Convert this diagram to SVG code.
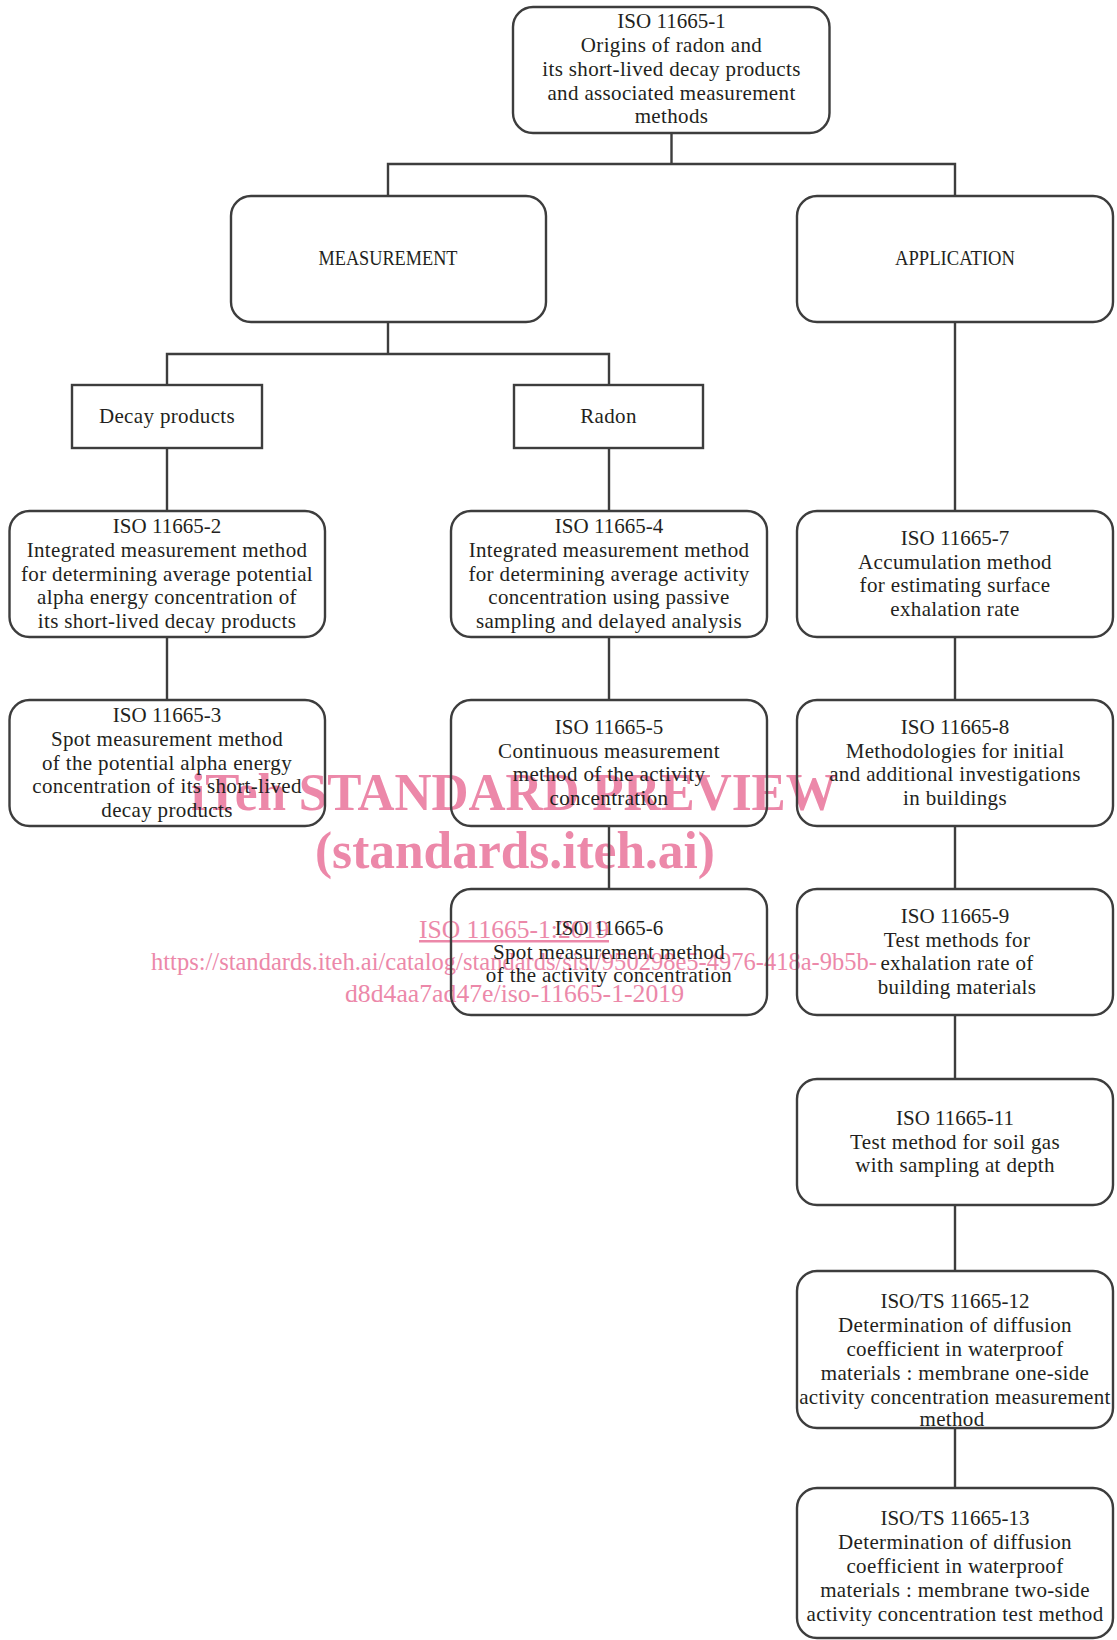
<svg xmlns="http://www.w3.org/2000/svg" width="1117" height="1640" viewBox="0 0 1117 1640">
<style>
.bx{fill:none;stroke:#3d3d3d;stroke-width:2.4}
.cn{fill:none;stroke:#3d3d3d;stroke-width:2.4}
.t{font-family:"Liberation Serif","Times New Roman",serif;font-size:21px;letter-spacing:0.35px;fill:#231f20;text-anchor:middle}
.h{letter-spacing:0}
.wm{font-family:"Liberation Serif","Times New Roman",serif;fill:#ec88a9}
.wb{font-weight:bold;font-size:52px}
.wr{font-size:25px}
</style>
<rect width="1117" height="1640" fill="#ffffff"/>
<g id="watermark">
<text class="wm wb" x="191" y="810" textLength="646" lengthAdjust="spacingAndGlyphs">iTeh STANDARD PREVIEW</text>
<text class="wm wb" x="315" y="868" textLength="400" lengthAdjust="spacingAndGlyphs">(standards.iteh.ai)</text>
<text class="wm wr" x="419" y="938" textLength="190" lengthAdjust="spacingAndGlyphs" text-decoration="underline">ISO 11665-1:2019</text>
<text class="wm wr" x="151" y="970" textLength="726" lengthAdjust="spacingAndGlyphs">https://standards.iteh.ai/catalog/standards/sist/950298e5-4976-418a-9b5b-</text>
<text class="wm wr" x="345" y="1002" textLength="339" lengthAdjust="spacingAndGlyphs">d8d4aa7ad47e/iso-11665-1-2019</text>
</g>
<g id="connectors">
<path class="cn" d="M671.5,133V164M388,196V164H955V196"/>
<path class="cn" d="M388,322V354M167,385V354H609V385"/>
<path class="cn" d="M167,448V511M609,448V511M955,322V511"/>
<path class="cn" d="M167,637V700M609,637V700M609,826V889"/>
<path class="cn" d="M955,637V700M955,826V889M955,1015V1079M955,1205V1271M955,1428V1488"/>
</g>
<g id="n1">
<rect class="bx" x="513" y="7" width="316.5" height="126" rx="20"/>
<text class="t h" x="671.5" y="28">ISO 11665-1</text>
<text class="t" x="671.5" y="52">Origins of radon and</text>
<text class="t" x="671.5" y="76">its short-lived decay products</text>
<text class="t" x="671.5" y="99.5">and associated measurement</text>
<text class="t" x="671.5" y="123">methods</text>
</g>
<g id="measurement">
<rect class="bx" x="231" y="196" width="315" height="126" rx="20"/>
<text class="t h" x="388" y="265" textLength="139" lengthAdjust="spacingAndGlyphs">MEASUREMENT</text>
</g>
<g id="application">
<rect class="bx" x="797" y="196" width="316" height="126" rx="20"/>
<text class="t h" x="955" y="265" textLength="120" lengthAdjust="spacingAndGlyphs">APPLICATION</text>
</g>
<g id="decay">
<rect class="bx" x="72" y="385" width="190" height="63"/>
<text class="t" x="167" y="423">Decay products</text>
</g>
<g id="radon">
<rect class="bx" x="514" y="385" width="189" height="63"/>
<text class="t" x="608.5" y="423">Radon</text>
</g>
<g id="n2">
<rect class="bx" x="9.5" y="511" width="315.5" height="126" rx="20"/>
<text class="t h" x="167" y="533">ISO 11665-2</text>
<text class="t" x="167" y="557">Integrated measurement method</text>
<text class="t" x="167" y="580.5">for determining average potential</text>
<text class="t" x="167" y="604.3">alpha energy concentration of</text>
<text class="t" x="167" y="628">its short-lived decay products</text>
</g>
<g id="n3">
<rect class="bx" x="9.5" y="700" width="315.5" height="126" rx="20"/>
<text class="t h" x="167" y="722">ISO 11665-3</text>
<text class="t" x="167" y="745.8">Spot measurement method</text>
<text class="t" x="167" y="769.6">of the potential alpha energy</text>
<text class="t" x="167" y="793.4">concentration of its short-lived</text>
<text class="t" x="167" y="817.2">decay products</text>
</g>
<g id="n4">
<rect class="bx" x="451" y="511" width="316" height="126" rx="20"/>
<text class="t h" x="609" y="533">ISO 11665-4</text>
<text class="t" x="609" y="557">Integrated measurement method</text>
<text class="t" x="609" y="580.5">for determining average activity</text>
<text class="t" x="609" y="604.3">concentration using passive</text>
<text class="t" x="609" y="628">sampling and delayed analysis</text>
</g>
<g id="n5">
<rect class="bx" x="451" y="700" width="316" height="126" rx="20"/>
<text class="t h" x="609" y="733.8">ISO 11665-5</text>
<text class="t" x="609" y="757.6">Continuous measurement</text>
<text class="t" x="609" y="781.4">method of the activity</text>
<text class="t" x="609" y="805.2">concentration</text>
</g>
<g id="n6">
<rect class="bx" x="451" y="889" width="316" height="126" rx="20"/>
<text class="t h" x="609" y="934.7">ISO 11665-6</text>
<text class="t" x="609" y="958.5">Spot measurement method</text>
<text class="t" x="609" y="982.3">of the activity concentration</text>
</g>
<g id="n7">
<rect class="bx" x="797" y="511" width="316" height="126" rx="20"/>
<text class="t h" x="955" y="544.8">ISO 11665-7</text>
<text class="t" x="955" y="568.6">Accumulation method</text>
<text class="t" x="955" y="592.4">for estimating surface</text>
<text class="t" x="955" y="616.2">exhalation rate</text>
</g>
<g id="n8">
<rect class="bx" x="797" y="700" width="316" height="126" rx="20"/>
<text class="t h" x="955" y="733.8">ISO 11665-8</text>
<text class="t" x="955" y="757.6">Methodologies for initial</text>
<text class="t" x="955" y="781.4">and additional investigations</text>
<text class="t" x="955" y="805.2">in buildings</text>
</g>
<g id="n9">
<rect class="bx" x="797" y="889" width="316" height="126" rx="20"/>
<text class="t h" x="955" y="922.8">ISO 11665-9</text>
<text class="t" x="957" y="946.6">Test methods for</text>
<text class="t" x="957" y="970.4">exhalation rate of</text>
<text class="t" x="957" y="994.2">building materials</text>
</g>
<g id="n11">
<rect class="bx" x="797" y="1079" width="316" height="126" rx="20"/>
<text class="t h" x="955" y="1124.7">ISO 11665-11</text>
<text class="t" x="955" y="1148.5">Test method for soil gas</text>
<text class="t" x="955" y="1172.3">with sampling at depth</text>
</g>
<g id="n12">
<rect class="bx" x="797" y="1271" width="316" height="157" rx="20"/>
<text class="t h" x="955" y="1308">ISO/TS 11665-12</text>
<text class="t" x="955" y="1332">Determination of diffusion</text>
<text class="t" x="955" y="1356">coefficient in waterproof</text>
<text class="t" x="955" y="1380">materials : membrane one-side</text>
<text class="t" x="955" y="1404">activity concentration measurement</text>
<text class="t" x="952" y="1426">method</text>
</g>
<g id="n13">
<rect class="bx" x="797" y="1488" width="316" height="150" rx="20"/>
<text class="t h" x="955" y="1525">ISO/TS 11665-13</text>
<text class="t" x="955" y="1549">Determination of diffusion</text>
<text class="t" x="955" y="1573">coefficient in waterproof</text>
<text class="t" x="955" y="1597">materials : membrane two-side</text>
<text class="t" x="955" y="1621">activity concentration test method</text>
</g>
</svg>
